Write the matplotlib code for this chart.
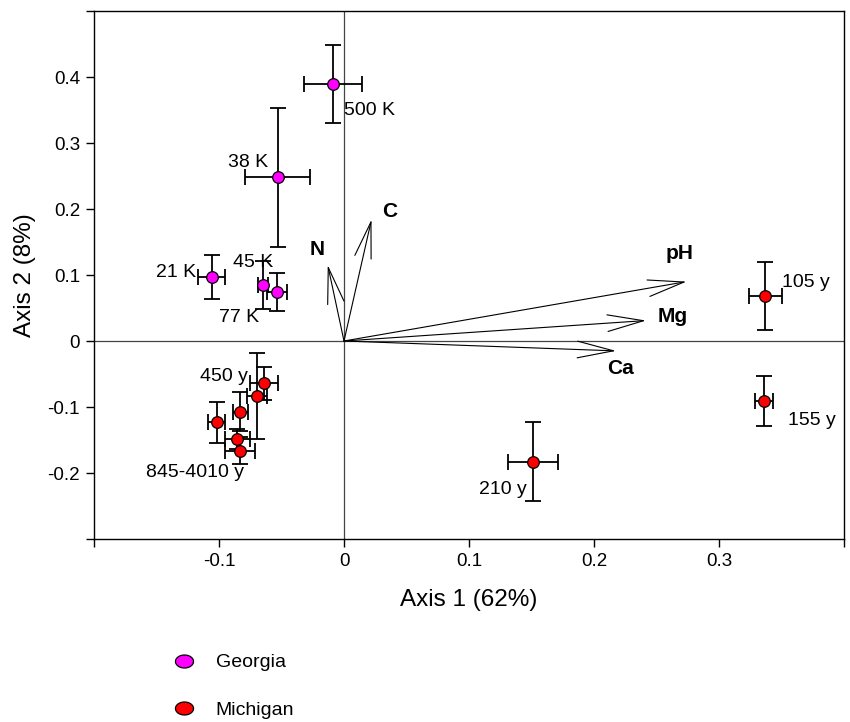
import matplotlib
matplotlib.use("Agg")
import matplotlib.pyplot as plt
import numpy as np
from matplotlib.path import Path
from matplotlib.lines import Line2D

plt.rcParams['font.family'] = ['Liberation Sans', 'DejaVu Sans']

# Georgia sites (ordination scores with SE)
georgia_labels = ['500 K', '38 K', '21 K', '45 K', '77 K']
georgia_x = [-0.009, -0.053, -0.106, -0.065, -0.054]
georgia_y = [0.389, 0.248, 0.097, 0.085, 0.074]
georgia_xerr = [0.023, 0.026, 0.011, 0.004, 0.008]
georgia_yerr = [0.059, 0.105, 0.033, 0.036, 0.029]

# Michigan sites
michigan_labels = ['450 y', None, None, None, None, '845-4010 y', '105 y', '155 y', '210 y']
michigan_x = [-0.064, -0.070, -0.083, -0.102, -0.0856, -0.0834, 0.337, 0.336, 0.151]
michigan_y = [-0.064, -0.083, -0.107, -0.123, -0.149, -0.166, 0.068, -0.0905, -0.183]
michigan_xerr = [0.011, 0.008, 0.006, 0.007, 0.010, 0.012, 0.013, 0.007, 0.020]
michigan_yerr = [0.025, 0.065, 0.030, 0.031, 0.015, 0.020, 0.052, 0.038, 0.060]

# environmental vectors
env_names = ['N', 'C', 'pH', 'Mg', 'Ca']
env_x = [-0.013, 0.022, 0.274, 0.2416, 0.2176]
env_y = [0.115, 0.184, 0.090, 0.031, -0.015]

x_ticks = [-0.2, -0.1, 0, 0.1, 0.2, 0.3, 0.4]
x_ticklabels = ['', '-0.1', '0', '0.1', '0.2', '0.3', '']
y_ticks = [-0.3, -0.2, -0.1, 0, 0.1, 0.2, 0.3, 0.4, 0.5]
y_ticklabels = ['', '-0.2', '-0.1', '0', '0.1', '0.2', '0.3', '0.4', '']

# label placement (offset in points, alignment)
georgia_lab_pos = [((8, -19), 'left'), ((-7, 11), 'right'), ((-11, 3.5), 'right'),
                   ((-7, 16), 'center'), ((-27, -18), 'center')]
michigan_lab_pos = [((-11.5, 5), 'right'), None, None, None, None,
                    ((-32, -16), 'center'), ((12, 10), 'left'),
                    ((17, -14), 'left'), ((-4, -20), 'right')]
env_lab_off = [(-8, 11), (13, 6), (-5, 20), (19, 3), (3, -13)]

fig = plt.figure(figsize=(8.5, 7.22), dpi=100)
ax = fig.add_axes([94 / 850, 1 - 539 / 722, 750 / 850, 528 / 722])

ax.axhline(0, color='#444444', lw=0.9, zorder=1)
ax.axvline(0, color='#444444', lw=0.9, zorder=1)

ebkw = dict(fmt='none', ecolor='black', elinewidth=1.3, capsize=5.5, capthick=1.3, zorder=2)
ax.errorbar(georgia_x, georgia_y, xerr=georgia_xerr, yerr=georgia_yerr, **ebkw)
ax.errorbar(michigan_x, michigan_y, xerr=michigan_xerr, yerr=michigan_yerr, **ebkw)
ax.scatter(georgia_x, georgia_y, s=70, c='#FF00FF', edgecolors='black', linewidths=0.9, zorder=3)
ax.scatter(michigan_x, michigan_y, s=70, c='#FF0000', edgecolors='black', linewidths=0.9, zorder=3)

for lab, x, y, pos in zip(georgia_labels, georgia_x, georgia_y, georgia_lab_pos):
    ax.annotate(lab, (x, y), xytext=pos[0], textcoords='offset points',
                ha=pos[1], va='center', fontsize=14)
for lab, x, y, pos in zip(michigan_labels, michigan_x, michigan_y, michigan_lab_pos):
    if lab is None:
        continue
    ax.annotate(lab, (x, y), xytext=pos[0], textcoords='offset points',
                ha=pos[1], va='center', fontsize=14)

for name, x, y, off in zip(env_names, env_x, env_y, env_lab_off):
    ax.annotate('', xy=(x, y), xytext=(0, 0),
                arrowprops=dict(arrowstyle='->,head_length=2.6,head_width=0.6',
                                mutation_scale=10, lw=0.8, color='black',
                                shrinkA=0, shrinkB=0))
    ax.annotate(name, (x, y), xytext=off, textcoords='offset points',
                ha='center', va='center', fontsize=15, fontweight='bold')

ax.set_xlim(-0.2, 0.4)
ax.set_ylim(-0.3, 0.5)
ax.set_xticks(x_ticks)
ax.set_xticklabels(x_ticklabels)
ax.set_yticks(y_ticks)
ax.set_yticklabels(y_ticklabels)
ax.tick_params(direction='out', length=6, width=1, labelsize=13.5, pad=4)
for sp in ax.spines.values():
    sp.set_linewidth(1.0)

ax.set_xlabel('Axis 1 (62%)', fontsize=17.5, labelpad=14)
ax.set_ylabel('Axis 2 (8%)', fontsize=17.5, labelpad=8)

# legend with elliptical markers
t = np.linspace(0, 2 * np.pi, 60)
ell = Path(np.column_stack([np.cos(t), 0.72 * np.sin(t)]), closed=True)
handles = [Line2D([], [], ls='none', marker=ell, markersize=13, markerfacecolor='#FF00FF',
                  markeredgecolor='black', markeredgewidth=0.9, label='Georgia'),
           Line2D([], [], ls='none', marker=ell, markersize=13, markerfacecolor='#FF0000',
                  markeredgecolor='black', markeredgewidth=0.9, label='Michigan')]
fig.legend(handles=handles, loc='upper left', bbox_to_anchor=(165 / 850, 1 - 646 / 722),
           frameon=False, fontsize=14, handlelength=1.2, handletextpad=1.0,
           labelspacing=1.55, borderaxespad=0)

fig.savefig('out.png', dpi=100)
